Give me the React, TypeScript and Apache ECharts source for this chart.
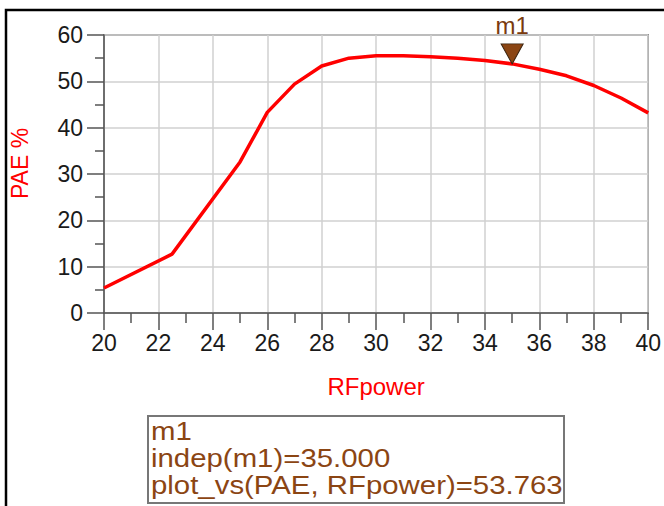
import React, { useEffect, useRef } from "react";
import * as echarts from "echarts";

const rfPower = [20, 22.5, 25, 26, 27, 28, 29, 30, 31, 32, 33, 34, 35, 36, 37, 38, 39, 40];
const pae = [5.4, 12.7, 32.6, 43.3, 49.4, 53.3, 55.0, 55.5, 55.5, 55.3, 55.0, 54.5, 53.763, 52.6, 51.2, 49.1, 46.4, 43.2];

const markerName = "m1";
const markerX = 35;
const markerY = 53.763;
const markerLines = ["m1", "indep(m1)=35.000", "plot_vs(PAE, RFpower)=53.763"];

const xAxisName = "RFpower";
const yAxisName = "PAE %";

const FONT = "'Liberation Sans', Arial, sans-serif";
const BROWN = "#8b4513";

export default function App() {
  const ref = useRef<HTMLDivElement>(null);
  useEffect(() => {
    if (!ref.current) return;
    const chart = echarts.init(ref.current, undefined, { renderer: "svg" });
    const data = rfPower.map((x, i) => [x, pae[i]]);
    chart.setOption({
      animation: false,
      backgroundColor: "#ffffff",
      grid: {
        left: 104,
        right: 11,
        top: 35,
        bottom: 193,
        show: true,
        borderColor: "#555",
        borderWidth: 1.5,
      },
      xAxis: {
        type: "value",
        min: 20,
        max: 40,
        interval: 2,
        name: xAxisName,
        nameLocation: "middle",
        nameGap: 61,
        nameTextStyle: { color: "#ff0000", fontSize: 24, fontFamily: FONT },
        axisLine: { show: true, lineStyle: { color: "#555", width: 1.5 } },
        axisTick: { show: true, length: 17, lineStyle: { color: "#555", width: 1.5 } },
        minorTick: { show: true, splitNumber: 2, length: 10, lineStyle: { color: "#555", width: 1.5 } },
        axisLabel: { color: "#1a1a1a", fontSize: 23, fontFamily: FONT, margin: 18 },
        splitLine: { show: true, lineStyle: { color: "#d0d0d0", width: 1.5 } },
      },
      yAxis: {
        type: "value",
        min: 0,
        max: 60,
        interval: 10,
        name: yAxisName,
        nameLocation: "middle",
        nameRotate: 90,
        nameGap: 73,
        nameTextStyle: { color: "#ff0000", fontSize: 23, fontFamily: FONT, padding: [0, 0, 0, 21] },
        axisLine: { show: true, lineStyle: { color: "#555", width: 1.5 } },
        axisTick: { show: true, length: 17, lineStyle: { color: "#555", width: 1.5 } },
        minorTick: { show: true, splitNumber: 2, length: 9, lineStyle: { color: "#555", width: 1.5 } },
        axisLabel: { color: "#1a1a1a", fontSize: 23, fontFamily: FONT, margin: 21 },
        splitLine: { show: true, lineStyle: { color: "#d0d0d0", width: 1.5 } },
      },
      series: [
        {
          type: "line",
          data,
          symbol: "none",
          lineStyle: { color: "#ff0000", width: 3.5 },
          markPoint: {
            symbol: "triangle",
            symbolSize: [22, 20],
            symbolRotate: 180,
            symbolOffset: [0, -10],
            itemStyle: { color: BROWN, borderColor: "#3a2410", borderWidth: 1 },
            label: {
              show: true,
              position: "top",
              distance: 6,
              formatter: markerName,
              color: "#7a3a0e",
              fontSize: 24,
              fontFamily: FONT,
            },
            data: [{ coord: [markerX, markerY] }],
          },
        },
      ],
      graphic: [
        {
          type: "rect",
          shape: { x: 6, y: 10, width: 700, height: 600 },
          style: { fill: "none", stroke: "#000", lineWidth: 2.5 },
          silent: true,
        },
        {
          type: "rect",
          shape: { x: 148, y: 416, width: 416, height: 87 },
          style: { fill: "#fff", stroke: "#777", lineWidth: 2 },
          silent: true,
        },
        {
          type: "text",
          x: 151,
          y: 418,
          scaleX: 1.13,
          style: {
            text: markerLines.join("\n"),
            fill: BROWN,
            fontSize: 26,
            lineHeight: 27,
            fontFamily: FONT,
            textVerticalAlign: "top",
          },
          silent: true,
        },
      ],
    });
    return () => chart.dispose();
  }, []);
  return (
    <div
      ref={ref}
      style={{ position: "fixed", left: 0, top: 0, width: 664, height: 506, background: "#fff" }}
    />
  );
}
